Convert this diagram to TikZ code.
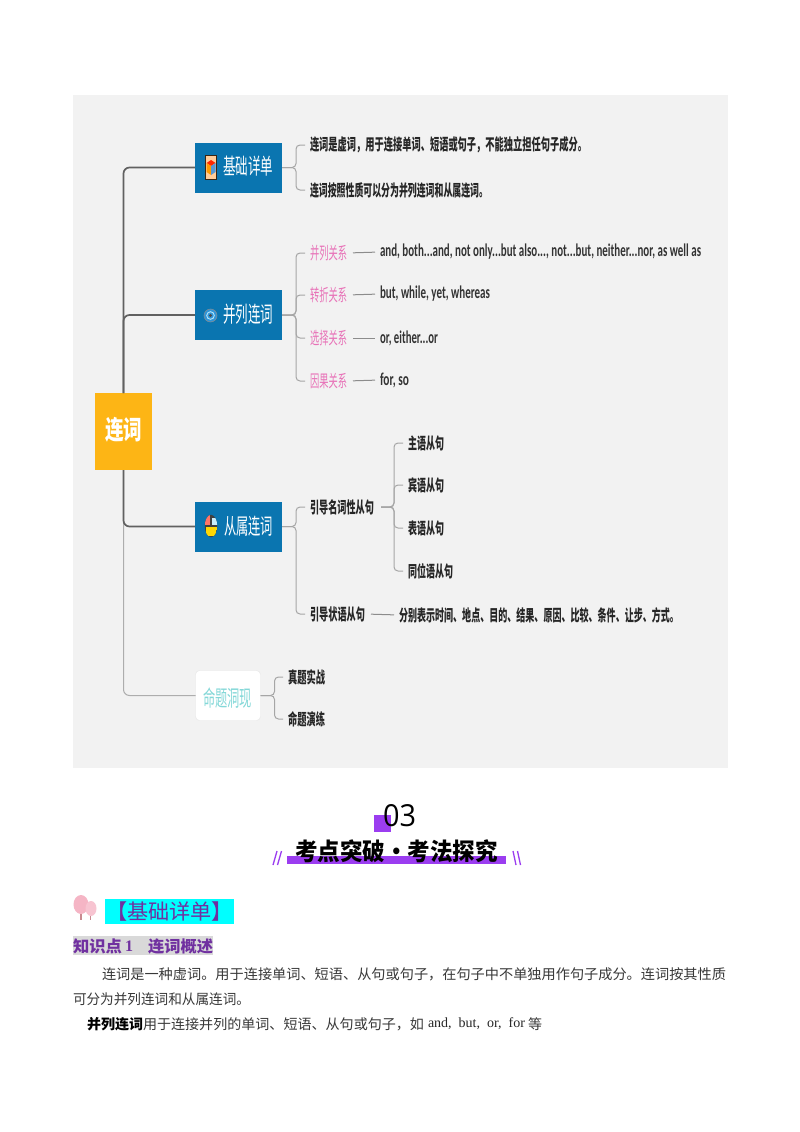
\documentclass[tikz,border=0pt]{standalone}
\usepackage{fontspec}
\usepackage{graphicx}
\setmainfont{Liberation Serif}
\newfontfamily\cjk{Noto Sans CJK SC}
\newfontfamily\latinb{Carlito}
\newfontfamily\thin{Open Sans}
\newcommand\fx[2]{\resizebox{#1pt}{\height}{#2}}
\definecolor{panel}{HTML}{F2F2F2}
\definecolor{bluebox}{HTML}{0A75B0}
\definecolor{rootc}{HTML}{FDB515}
\definecolor{pinkt}{HTML}{E873B8}
\definecolor{tealt}{HTML}{84D8D8}
\definecolor{purp}{HTML}{9B3DF0}
\definecolor{deep}{HTML}{7030A0}
\definecolor{aqua}{HTML}{00FFFF}
\definecolor{blossom}{HTML}{F5B5C5}
\definecolor{blossomd}{HTML}{C98A90}
\tikzset{
  tx/.style={inner sep=0pt,outer sep=0pt,anchor=west,text=black},
  dk/.style={tx,font=\cjk\bfseries\fontsize{16}{16}\selectfont,text=black!85},
  pk/.style={tx,font=\cjk\fontsize{17}{17}\selectfont,text=pinkt},
  en/.style={tx,font=\latinb\bfseries\fontsize{18}{18}\selectfont,text=black!80},
  bd/.style={tx,font=\cjk\fontsize{14}{14}\selectfont,text=black!78},
  mainbox/.style={fill=bluebox,inner sep=0pt,outer sep=0pt,minimum width=87pt,minimum height=50pt},
  boxt/.style={tx,font=\cjk\fontsize{22}{22}\selectfont,text=white},
  trunk/.style={draw=black!62,line width=1.7pt,rounded corners=6pt},
  trunkl/.style={draw=black!32,line width=1pt,rounded corners=6pt},
  branch/.style={draw=black!35,line width=1pt,rounded corners=4pt,shorten >=5pt},
  link/.style={draw=black!45,line width=1pt,shorten >=5pt,shorten <=6pt},
}
\begin{document}
\begin{tikzpicture}[x=1pt,y=-1pt]
\useasboundingbox (0,0) rectangle (800,1132);
\fill[white] (0,0) rectangle (800,1132);
\fill[panel] (73,95) rectangle (728,768);

% main nodes
\node[fill=rootc,inner sep=0pt,outer sep=0pt,minimum width=57pt,minimum height=77pt] (root) at (123.5,431.5) {};
\node[tx,font=\cjk\bfseries\fontsize{26}{26}\selectfont,text=white] (roott) at (105,430) {\fx{37}{连词}};
\node[mainbox] (b1) at (238.5,167.5) {};
\node[mainbox] (b2) at (238.5,315) {};
\node[mainbox] (b3) at (238.5,526.5) {};
\node[fill=white,draw=black!10,rounded corners=4pt,inner sep=0pt,outer sep=0pt,minimum width=65pt,minimum height=50pt] (b4) at (228,695.5) {};
\node[boxt] (t1) at (223,166) {\fx{50}{基础详单}};
\node[boxt] (t2) at (223,314) {\fx{50}{并列连词}};
\node[boxt] (t3) at (224,526) {\fx{49}{从属连词}};
\node[boxt,text=tealt] (t4) at (203,698) {\fx{49}{命题洞现}};

% level-2 text
\node[dk] (a1) at (310,145) {\fx{277}{连词是虚词，用于连接单词、短语或句子，不能独立担任句子成分。}};
\node[dk] (a2) at (310,190) {\fx{178}{连词按照性质可以分为并列连词和从属连词。}};

\node[pk] (p1) at (310,253) {\fx{37}{并列关系}};
\node[pk] (p2) at (310,295) {\fx{37}{转折关系}};
\node[pk] (p3) at (310,338) {\fx{37}{选择关系}};
\node[pk] (p4) at (310,381) {\fx{37}{因果关系}};
\node[en] (q1) at (380,252) {\fx{321}{and, both...and, not only...but also..., not...but, neither...nor, as well as}};
\node[en] (q2) at (380,294) {\fx{110}{but, while, yet, whereas}};
\node[en] (q3) at (380,338) {\fx{58}{or, either...or}};
\node[en] (q4) at (380,380) {\fx{29}{for, so}};

\node[dk] (c1) at (310,507) {\fx{64}{引导名词性从句}};
\node[dk] (c2) at (310,614) {\fx{55}{引导状语从句}};
\node[dk] (d1) at (408,443) {\fx{36}{主语从句}};
\node[dk] (d2) at (408,485) {\fx{36}{宾语从句}};
\node[dk] (d3) at (408,528) {\fx{36}{表语从句}};
\node[dk] (d4) at (408,571) {\fx{45}{同位语从句}};
\node[dk] (e1) at (399,615) {\fx{280}{分别表示时间、地点、目的、结果、原因、比较、条件、让步、方式。}};
\node[dk] (f1) at (288,677) {\fx{37}{真题实战}};
\node[dk] (f2) at (288,719) {\fx{37}{命题演练}};

% trunk connectors
\draw[trunkl] (root.south) |- (b4.west);
\draw[trunk] (root.north) |- (b1.west);
\draw[trunk] (root.north) |- (b2.west);
\draw[trunk] (root.south) |- (b3.west);

% branch connectors
\foreach \n in {a1,a2} \draw[branch] (b1.east) -- ++(14,0) |- (\n.west);
\foreach \n in {p1,p2,p3,p4} \draw[branch] (b2.east) -- ++(14,0) |- (\n.west);
\foreach \n in {c1,c2} \draw[branch] (b3.east) -- ++(14,0) |- (\n.west);
\foreach \n in {f1,f2} \draw[branch] (b4.east) -- ++(14,0) |- (\n.west);
\foreach \n in {d1,d2,d3,d4} \draw[branch,shorten <=7pt] (c1.east) -- ++(20,0) |- (\n.west);
\draw[link] (p1.east) -- (q1.west);
\draw[link] (p2.east) -- (q2.west);
\draw[link] (p3.east) -- (q3.west);
\draw[link] (p4.east) -- (q4.west);
\draw[link] (c2.east) -- (e1.west);

% icons
\fill[orange!40!white,draw=black!70!brown,line width=.7pt] (205.5,155.5) rectangle (216.5,179.5);
\fill[red!70!orange] (211,160) -- (215.5,163) -- (211,166) -- (206.5,163) -- cycle;
\fill[orange!80!yellow] (206.5,163) -- (211,166) -- (211,175) -- (206.5,172) -- cycle;
\fill[cyan!60!blue!70!white] (215.5,163) -- (211,166) -- (211,175) -- (215.5,172) -- cycle;
\fill[cyan!70!blue!85!white,draw=black!45,line width=.5pt] (210.5,315.5) circle (6.5);
\draw[white!70!cyan,line width=.9pt] (210.5,315.5) circle (3.8);
\fill[black!70] (210.5,315.5) circle (1.6);
\begin{scope}
\clip (211,526) ellipse (6.2 and 11.2);
\fill[black!75] (204,514) rectangle (218,538);
\fill[red!55!white!90!orange] (205,515) rectangle (210.3,525);
\fill[cyan!22!white] (211.7,518) rectangle (218,525);
\fill[yellow!75!orange] (205.5,527) rectangle (216.5,535.5);
\end{scope}

% section heading
\fill[purp] (374,815) rectangle (391,832);
\node[tx,font=\thin\fontsize{30}{30}\selectfont] (num) at (383,816) {\resizebox{33pt}{22pt}{03}};
\fill[purp] (286.5,856) rectangle (506,864);
\node[tx,font=\cjk\bfseries\fontsize{24}{24}\selectfont] (head) at (295,851) {\fx{203}{考点突破·考法探究}};
\draw[purp,line width=1.3pt] (273,865) -- (277,851) (277.5,865) -- (281.5,851);
\draw[purp,line width=1.3pt] (513,851) -- (516,865) (517.5,851) -- (520.5,865);

% blossom icon
\fill[blossomd] (80.2,905) rectangle (81.6,920);
\fill[blossom] (81,904.5) ellipse (7.5 and 9.5);
\fill[blossomd] (90.4,910) rectangle (91.2,920);
\fill[blossom!80!white] (91,908.5) ellipse (5.5 and 7.5);

% subheadings
\fill[aqua] (105,899) rectangle (234,924);
\node[tx,font=\cjk\fontsize{21}{21}\selectfont,text=deep] (h1) at (106,912) {\fx{127}{【基础详单】}};
\fill[black!15] (73,936) rectangle (213,955);
\node[tx,font=\cjk\bfseries\fontsize{16}{16}\selectfont,text=deep] (h2a) at (73,946) {\fx{49}{知识点}};
\node[tx,font=\bfseries\fontsize{16}{16}\selectfont,text=deep] (h2b) at (125,946) {\fx{8}{1}};
\node[tx,font=\cjk\bfseries\fontsize{16}{16}\selectfont,text=deep] (h2c) at (148,946) {\fx{65}{连词概述}};

% body
\node[bd] (l1) at (102,974) {\fx{624}{连词是一种虚词。用于连接单词、短语、从句或句子，在句子中不单独用作句子成分。连词按其性质}};
\node[bd] (l2) at (73,999) {\fx{177}{可分为并列连词和从属连词。}};
\node[bd,font=\cjk\bfseries\fontsize{14}{14}\selectfont,text=black] (l3a) at (87,1024) {\fx{56}{并列连词}};
\node[bd] (l3b) at (143,1024) {\fx{281}{用于连接并列的单词、短语、从句或句子，如}};
\node[tx,font=\fontsize{14}{14}\selectfont,text=black!85] (l3c) at (428,1024) {\fx{97}{and,\ \ but,\ \ or,\ \ for}};
\node[bd] (l3d) at (528,1024) {\fx{14}{等}};
\end{tikzpicture}
\end{document}
